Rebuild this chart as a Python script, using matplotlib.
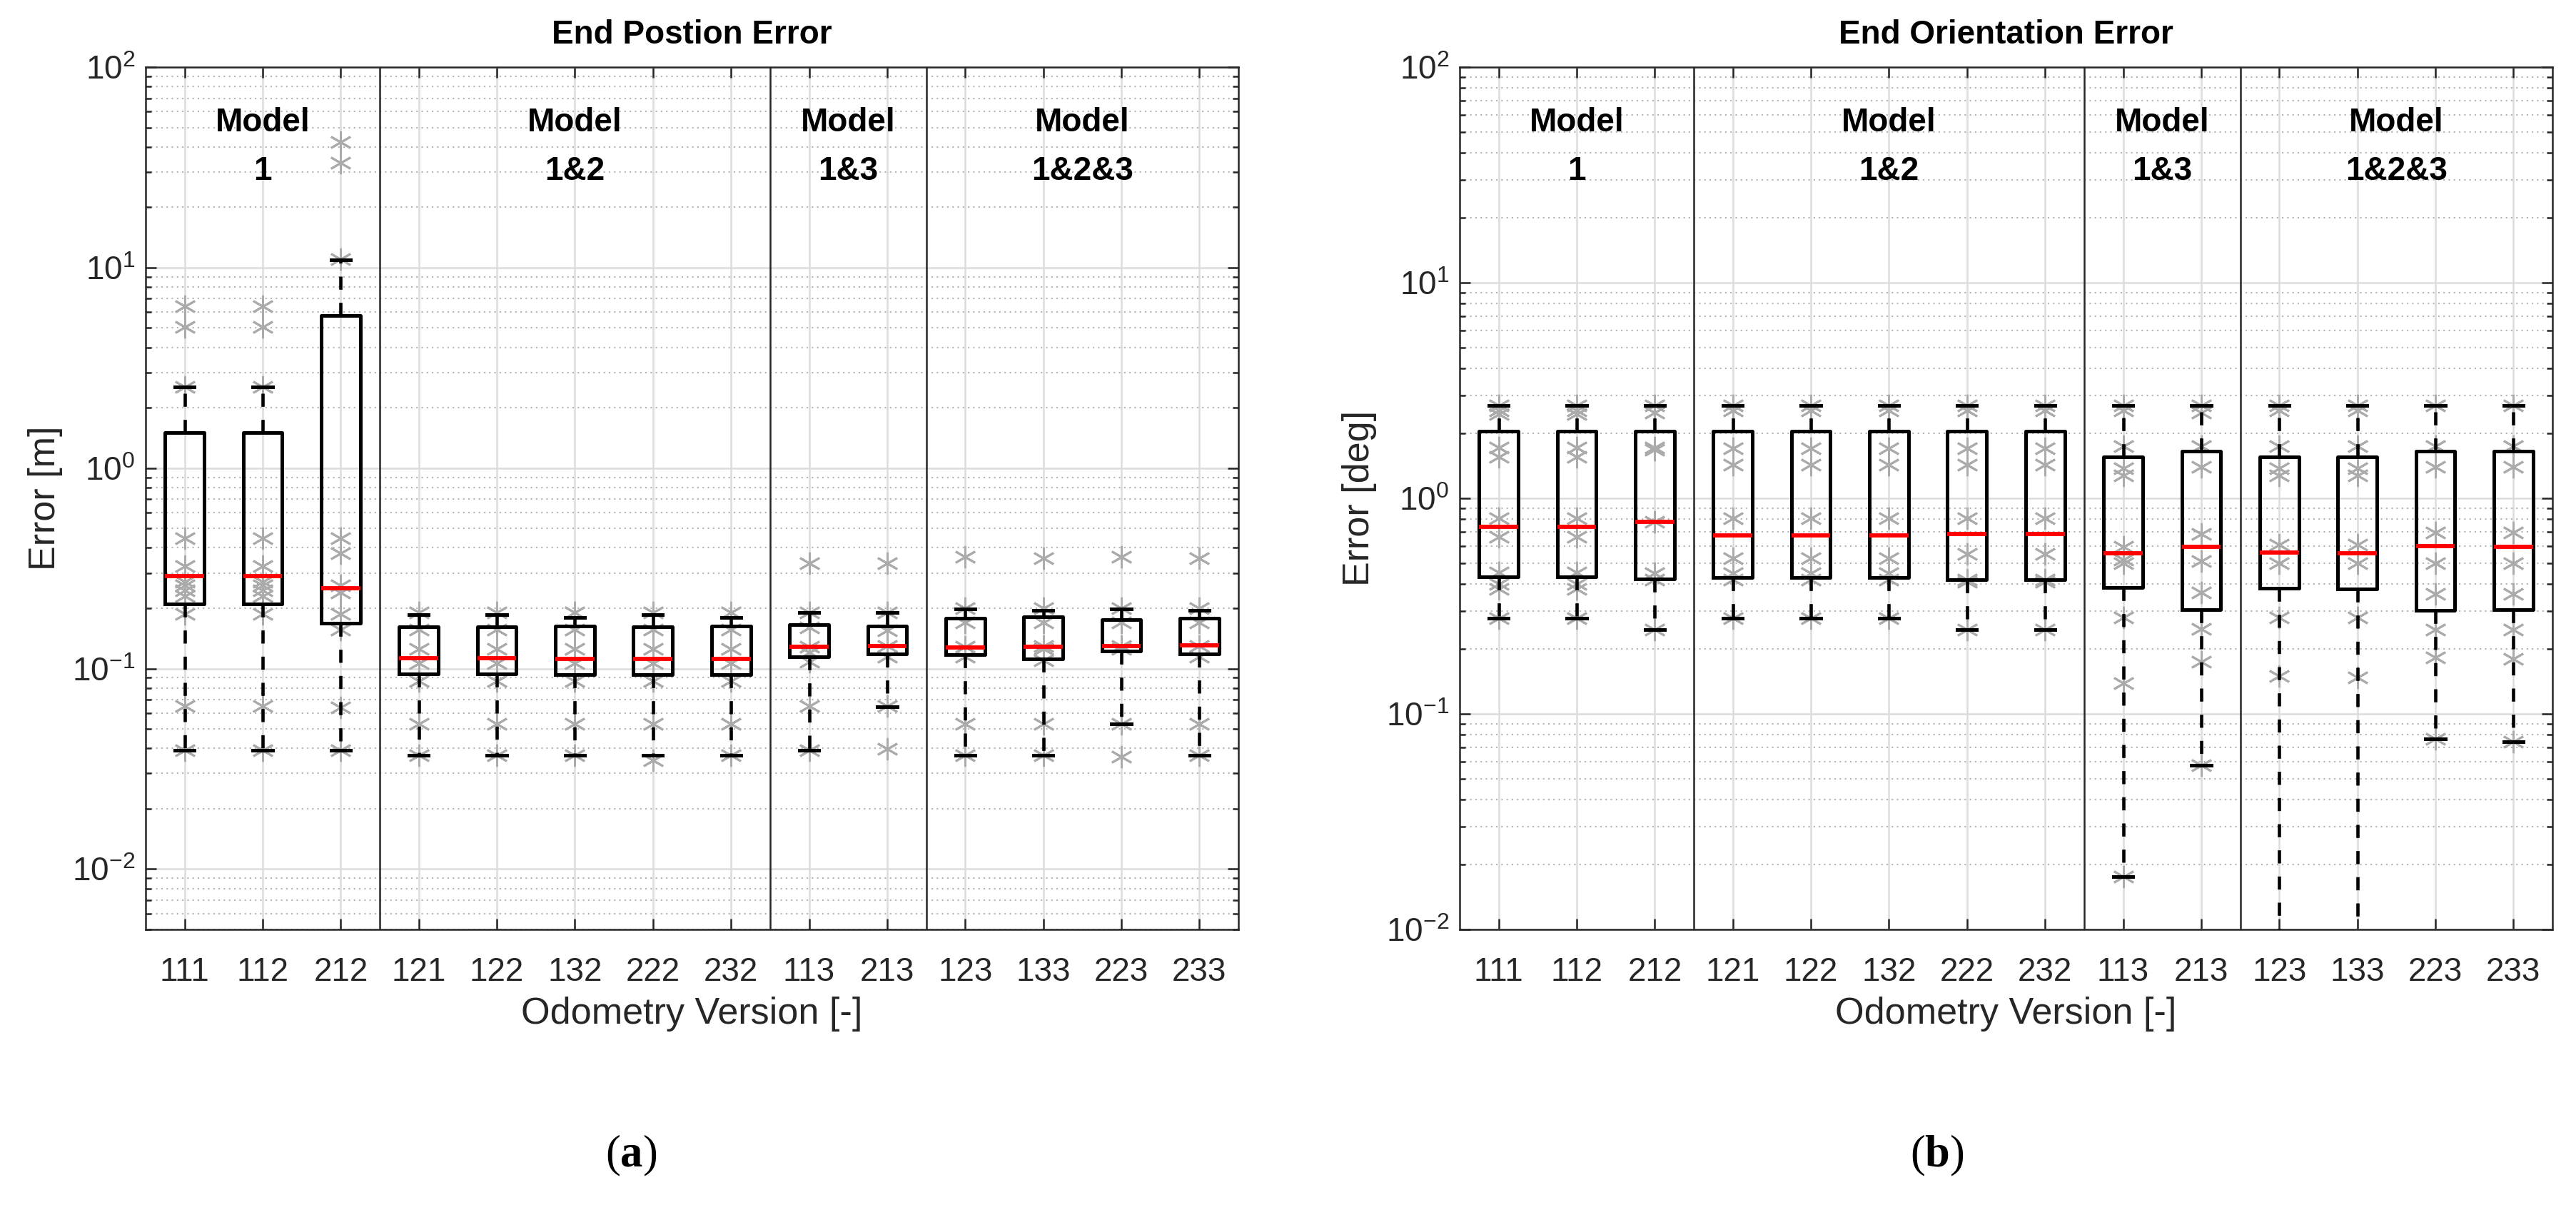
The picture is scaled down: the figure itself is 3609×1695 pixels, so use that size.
"""
Box plots of end position / orientation error per odometry version.
"""
import matplotlib
matplotlib.use("Agg")
import matplotlib.pyplot as plt
from matplotlib.ticker import LogLocator, NullFormatter, FixedLocator
from matplotlib.transforms import blended_transform_factory

plt.rcParams["font.family"] = ["Liberation Sans", "DejaVu Sans"]
plt.rcParams["mathtext.fontset"] = "custom"
plt.rcParams["mathtext.rm"] = "Liberation Sans"
plt.rcParams["mathtext.bf"] = "Liberation Serif:bold"

versions = ["111", "112", "212", "121", "122", "132", "222", "232",
            "113", "213", "123", "133", "223", "233"]
group_names = ["Model\n1", "Model\n1&2", "Model\n1&3", "Model\n1&2&3"]
group_centers = [2, 6, 9.5, 12.5]
separators = [3.5, 8.5, 10.5]

# --- end position error [m] ---
pos_q3 = [1.50, 1.50, 5.79, 0.161, 0.161, 0.163, 0.161, 0.163, 0.166, 0.163, 0.178, 0.181, 0.175, 0.178]
pos_med = [0.29, 0.29, 0.252, 0.113, 0.113, 0.112, 0.112, 0.112, 0.128, 0.130, 0.127, 0.129, 0.130, 0.131]
pos_q1 = [0.211, 0.211, 0.168, 0.094, 0.094, 0.093, 0.093, 0.093, 0.115, 0.118, 0.117, 0.112, 0.122, 0.118]
pos_hi = [2.55, 2.55, 10.97, 0.186, 0.186, 0.180, 0.186, 0.180, 0.191, 0.190, 0.199, 0.195, 0.198, 0.195]
pos_lo = [0.039, 0.039, 0.039, 0.037, 0.037, 0.037, 0.037, 0.037, 0.039, 0.0645, 0.037, 0.037, 0.053, 0.037]
pos_points = [
    [6.4, 5.05, 2.55, 0.445, 0.324, 0.27, 0.26, 0.245, 0.23, 0.187, 0.065, 0.039],
    [6.4, 5.05, 2.55, 0.445, 0.324, 0.27, 0.26, 0.245, 0.23, 0.187, 0.065, 0.039],
    [42.4, 33.3, 11.0, 0.445, 0.376, 0.26, 0.24, 0.187, 0.156, 0.064, 0.039],
    [0.19, 0.156, 0.125, 0.106, 0.087, 0.053, 0.037],
    [0.19, 0.156, 0.125, 0.106, 0.087, 0.053, 0.037],
    [0.19, 0.156, 0.125, 0.106, 0.087, 0.053, 0.037],
    [0.19, 0.156, 0.125, 0.106, 0.087, 0.053, 0.035],
    [0.19, 0.156, 0.125, 0.106, 0.087, 0.053, 0.037],
    [0.335, 0.19, 0.16, 0.128, 0.12, 0.108, 0.065, 0.039],
    [0.335, 0.19, 0.155, 0.13, 0.115, 0.065, 0.0398],
    [0.36, 0.2, 0.17, 0.128, 0.115, 0.053, 0.037],
    [0.355, 0.2, 0.17, 0.13, 0.125, 0.11, 0.053, 0.037],
    [0.36, 0.2, 0.17, 0.13, 0.125, 0.053, 0.0365],
    [0.355, 0.2, 0.17, 0.13, 0.115, 0.053, 0.037],
]

# --- end orientation error [deg] ---
ori_q3 = [2.05, 2.05, 2.05, 2.05, 2.05, 2.05, 2.05, 2.05, 1.56, 1.65, 1.56, 1.56, 1.65, 1.65]
ori_med = [0.738, 0.738, 0.78, 0.673, 0.673, 0.673, 0.683, 0.683, 0.554, 0.596, 0.562, 0.556, 0.601, 0.596]
ori_q1 = [0.432, 0.432, 0.422, 0.43, 0.43, 0.43, 0.42, 0.42, 0.387, 0.305, 0.384, 0.381, 0.302, 0.305]
ori_hi = [2.69, 2.69, 2.69, 2.69, 2.69, 2.69, 2.69, 2.69, 2.69, 2.69, 2.69, 2.69, 2.69, 2.69]
ori_lo = [0.278, 0.278, 0.246, 0.278, 0.278, 0.278, 0.246, 0.246, 0.0176, 0.0578, 0.005, 0.005, 0.0766, 0.0744]
ori_points = [
    [2.69, 2.55, 2.45, 1.72, 1.56, 0.81, 0.66, 0.454, 0.4, 0.38, 0.278],
    [2.69, 2.55, 2.45, 1.72, 1.56, 0.81, 0.66, 0.454, 0.4, 0.38, 0.278],
    [2.69, 2.5, 1.72, 1.68, 0.78, 0.45, 0.42, 0.246],
    [2.69, 2.55, 1.7, 1.43, 0.81, 0.527, 0.45, 0.42, 0.278],
    [2.69, 2.55, 1.7, 1.43, 0.81, 0.527, 0.45, 0.42, 0.278],
    [2.69, 2.55, 1.7, 1.43, 0.81, 0.527, 0.45, 0.42, 0.278],
    [2.69, 2.55, 1.7, 1.43, 0.81, 0.552, 0.42, 0.41, 0.246],
    [2.69, 2.55, 1.7, 1.43, 0.81, 0.552, 0.42, 0.41, 0.246],
    [2.69, 2.55, 1.74, 1.38, 1.28, 0.596, 0.52, 0.5, 0.28, 0.139, 0.0176],
    [2.69, 2.5, 1.74, 1.4, 0.683, 0.51, 0.366, 0.248, 0.175, 0.0578],
    [2.69, 2.55, 1.74, 1.38, 1.28, 0.61, 0.5, 0.28, 0.15, 0.005],
    [2.69, 2.55, 1.74, 1.38, 1.28, 0.61, 0.5, 0.28, 0.148, 0.005],
    [2.69, 1.74, 1.4, 0.696, 0.5, 0.36, 0.246, 0.182, 0.0766],
    [2.69, 1.74, 1.4, 0.696, 0.5, 0.36, 0.246, 0.18, 0.0744],
]

W, H, DPI = 3609, 1695, 300
fig = plt.figure(figsize=(W / DPI, H / DPI), dpi=DPI)
ax_w, ax_h, ax_b = 1531 / W, 1208 / H, 1 - 1302 / H
ax1 = fig.add_axes([204 / W, ax_b, ax_w, ax_h])
ax2 = fig.add_axes([2045 / W, ax_b, ax_w, ax_h])

DARK = "#262626"
GRID = "#dcdcdc"


def draw_panel(ax, q1, med, q3, lo, hi, points, ylim, title, ylabel):
    positions = list(range(1, len(versions) + 1))
    for x, pts in zip(positions, points):
        ax.plot([x] * len(pts), pts, linestyle="none", marker=(6, 2, 0),
                markersize=7.5, markeredgewidth=0.7, color="#ababab", zorder=2)
    stats = [{"med": m, "q1": a, "q3": b, "whislo": l, "whishi": h, "fliers": []}
             for a, m, b, l, h in zip(q1, med, q3, lo, hi)]
    ax.bxp(stats, positions=positions, widths=0.5, capwidths=0.25,
           showfliers=False, manage_ticks=False,
           boxprops=dict(color="black", linewidth=1.2),
           whiskerprops=dict(color="black", linewidth=1.1, linestyle=(0, (4, 4))),
           capprops=dict(color="black", linewidth=1.2),
           medianprops=dict(color="red", linewidth=1.4),
           zorder=3)
    for s in separators:
        ax.axvline(s, color=DARK, linewidth=0.6, zorder=4)
    trans = blended_transform_factory(ax.transData, ax.transAxes)
    for name, xc in zip(group_names, group_centers):
        ax.text(xc, 0.907, name, transform=trans, ha="center", va="center",
                fontsize=11, fontweight="bold", linespacing=1.7, zorder=5)

    ax.set_yscale("log")
    ax.set_ylim(*ylim)
    ax.set_xlim(0.5, len(versions) + 0.5)
    ax.set_xticks(positions)
    ax.set_xticklabels(versions)
    ax.yaxis.set_major_locator(FixedLocator([1e-2, 1e-1, 1, 10, 100]))
    ax.yaxis.set_minor_locator(LogLocator(base=10, subs=range(2, 10), numticks=20))
    ax.yaxis.set_minor_formatter(NullFormatter())

    ax.grid(True, which="major", color=GRID, linewidth=0.6, linestyle="-", zorder=0)
    ax.grid(True, which="minor", axis="y", color="#b4b4b4", linewidth=0.5,
            linestyle=(0, (1, 2.5)), zorder=0)
    ax.set_axisbelow(True)
    ax.tick_params(which="both", direction="in", top=True, right=True,
                   colors=DARK, labelcolor=DARK, labelsize=11, width=0.6)
    ax.tick_params(which="major", length=3.6)
    ax.tick_params(which="minor", length=2.0)
    ax.tick_params(axis="x", pad=9)
    for sp in ax.spines.values():
        sp.set_color(DARK)
        sp.set_linewidth(0.6)

    ax.set_title(title, fontsize=11, fontweight="bold", pad=8)
    ax.set_xlabel("Odometry Version [-]", fontsize=12.5, color=DARK, labelpad=3)
    ax.set_ylabel(ylabel, fontsize=12.5, color=DARK, labelpad=3)


draw_panel(ax1, pos_q1, pos_med, pos_q3, pos_lo, pos_hi, pos_points,
           (0.005, 100), "End Postion Error", "Error [m]")
draw_panel(ax2, ori_q1, ori_med, ori_q3, ori_lo, ori_hi, ori_points,
           (0.01, 100), "End Orientation Error", "Error [deg]")

fig.text(0.245, 0.045, r"($\mathbf{a}$)", family="Liberation Serif",
         fontsize=15, ha="center", va="center")
fig.text(0.752, 0.045, r"($\mathbf{b}$)", family="Liberation Serif",
         fontsize=15, ha="center", va="center")

fig.savefig("out.png", dpi=DPI)
plt.close(fig)
print("Saved: out.png")
